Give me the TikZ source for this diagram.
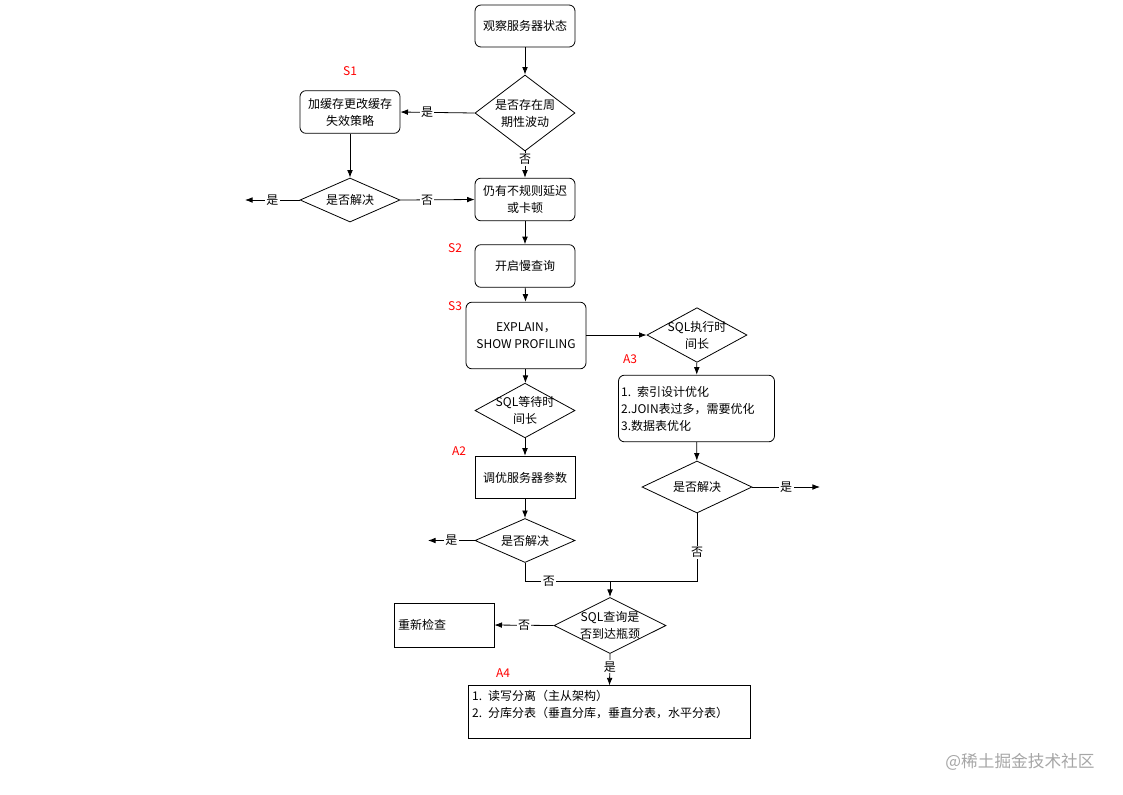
\documentclass[tikz,border=0pt]{standalone}
\usepackage{fontspec}
\setmainfont{Noto Sans CJK SC}
\usepackage{tikz}
\usetikzlibrary{arrows.meta,positioning,shapes.geometric}

\begin{document}
\begin{tikzpicture}[x=0.75pt,y=-0.75pt,>=Latex,line width=0.6pt,
  font=\fontsize{9pt}{12.75pt}\selectfont,
  box/.style={draw,rounded corners=4.5pt,align=center,inner sep=2pt},
  sqbox/.style={draw,align=left,inner sep=3pt},
  dia/.style={draw,diamond,inner sep=-6pt,align=center},
  lab/.style={fill=white,inner sep=1pt},
  tag/.style={text=red,inner sep=0pt},
  flow/.style={-{Latex[length=2mm]}}]
\useasboundingbox (0,0) rectangle (1123,794);
% main column
\node[box,minimum width=75pt,minimum height=31.5pt] (obs) at (525,26) {观察服务器状态};
\node[dia,minimum width=75pt,minimum height=57pt] (cyc) at (525,113) {是否存在周\\期性波动};
\node[box,minimum width=75pt,minimum height=32pt] (cache) at (350,112) {加缓存更改缓存\\失效策略};
\node[tag] (s1) at (350,71) {S1};
\node[dia,minimum width=75pt,minimum height=33pt] (solved1) at (350,200) {是否解决};
\coordinate (out1) at (245,200);
\node[box,minimum width=75pt,minimum height=32pt] (lag) at (525,199.5) {仍有不规则延迟\\或卡顿};
\node[box,minimum width=75pt,minimum height=32pt] (slow) at (525,266) {开启慢查询};
\node[tag] (s2) at (455,248) {S2};
\node[box,minimum width=90pt,minimum height=50pt] (expl) at (526,335.5) {EXPLAIN，\\SHOW PROFILING};
\node[tag] (s3) at (455,306) {S3};
% waiting branch
\node[dia,minimum width=75pt,minimum height=39pt] (wait) at (525,410.5) {SQL等待时\\间长};
\node[tag] (a2) at (459,451) {A2};
\node[sqbox,align=center,minimum width=75pt,minimum height=32pt] (param) at (525,477.5) {调优服务器参数};
\node[dia,minimum width=75pt,minimum height=33pt] (solved2) at (525,540.5) {是否解决};
\coordinate (out2) at (428,540.5);
% execution branch
\node[dia,minimum width=75pt,minimum height=39pt] (exec) at (697,335) {SQL执行时\\间长};
\node[tag] (a3) at (630,359) {A3};
\node[box,align=left,text width=113pt,minimum height=50pt] (idx) at (696.5,408.5) {1. 索引设计优化\\2.JOIN表过多，需要优化\\3.数据表优化};
\node[dia,minimum width=82.5pt,minimum height=39pt] (solved3) at (697,487) {是否解决};
\coordinate (out3) at (820,487);
% bottom
\coordinate (join) at (610,581);
\node[dia,minimum width=84pt,minimum height=40pt] (neck) at (610,625.5) {SQL查询是\\否到达瓶颈};
\node[sqbox,text width=69pt,minimum height=33pt] (recheck) at (444,625) {重新检查};
\node[tag] (a4) at (503,673) {A4};
\node[sqbox,text width=206pt,minimum height=39pt] (split) at (609.5,712) {1. 读写分离（主从架构）\\2. 分库分表（垂直分库，垂直分表，水平分表）\\\mbox{}};
\node[text=black!35,font=\fontsize{12.5pt}{14pt}\selectfont] (mark) at (1020,762) {@稀土掘金技术社区};
% connectors
\draw[flow] (obs) -- (cyc);
\draw[flow] (cyc.west) -- node[lab,pos=0.64]{是} (cache.east);
\draw[flow] (cyc.south) -- node[lab,pos=0.3]{否} (lag.north);
\draw[flow] (cache) -- (solved1);
\draw[flow] (solved1.west) -- node[lab]{是} (out1);
\draw[flow] (solved1.east) -- node[lab,pos=0.36]{否} (lag.west);
\draw[flow] (lag) -- (slow);
\draw[flow] (slow) -- (expl);
\draw[flow] (expl) -- (wait);
\draw[flow] (expl.east |- exec) -- (exec.west);
\draw[flow] (wait) -- (param);
\draw[flow] (param) -- (solved2);
\draw[flow] (solved2.west) -- node[lab]{是} (out2);
\draw[flow] (exec) -- (idx);
\draw[flow] (idx) -- (solved3);
\draw[flow] (solved3.east) -- node[lab]{是} (out3);
\draw (solved2.south) |- node[lab,pos=0.64]{否} (join);
\draw (solved3.south) |- node[lab,pos=0.29]{否} (join);
\draw[flow] (join) -- (neck.north);
\draw[flow] (neck.west) -- node[lab]{否} (recheck.east);
\draw[flow] (neck.south) -- node[lab,pos=0.41]{是} (split.north);
\end{tikzpicture}
\end{document}
